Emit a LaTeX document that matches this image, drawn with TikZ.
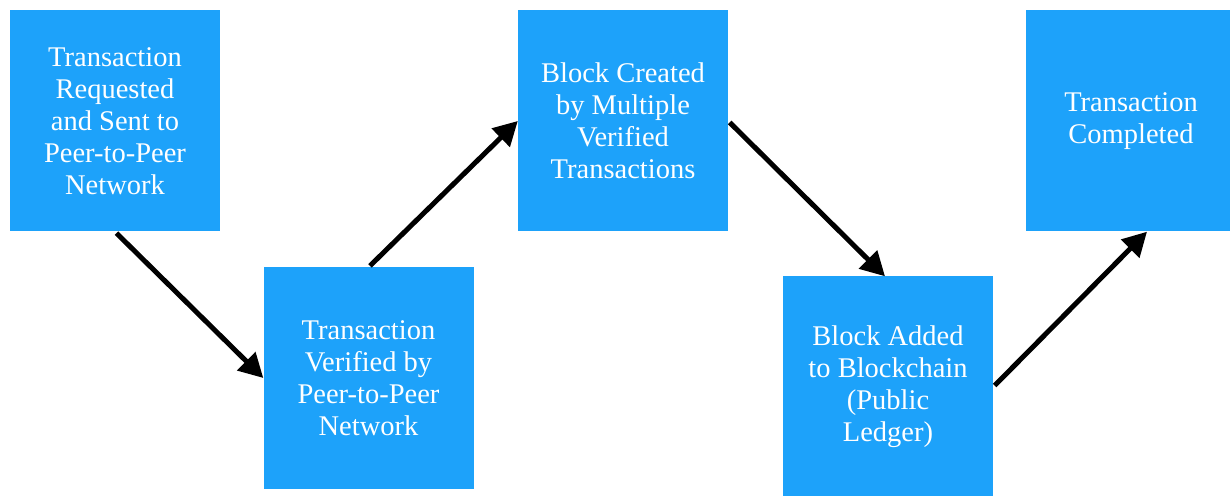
\documentclass[tikz,border=0pt]{standalone}
\usepackage{fontspec}
\setmainfont{Liberation Serif}
\usetikzlibrary{arrows.meta}
\definecolor{stepblue}{RGB}{29,162,250}
\tikzset{
    stage/.style={rectangle,fill=stepblue,text=white,align=center,inner sep=0pt,
        minimum width=210pt,minimum height=221pt,
        font=\fontsize{28.5}{32}\selectfont},
    flow/.style={line width=5pt,-{Triangle[length=24pt,width=25pt]},shorten <=2pt}
}
\begin{document}
\begin{tikzpicture}[x=1pt,y=1pt]
    \useasboundingbox (0,0) rectangle (1230,495);
    \node[stage] (requested) at (115,374) {Transaction\\Requested\\and Sent to\\Peer-to-Peer\\Network};
    \node[stage] (verified) at (368.5,117) {Transaction\\Verified by\\Peer-to-Peer\\Network};
    \node[stage] (created) at (623,374) {Block Created\\by Multiple\\Verified\\Transactions};
    \node[stage] (added) at (888,108) {Block Added\\to Blockchain\\(Public\\Ledger)};
    \node[stage] (completed) at (1131,374) {Transaction\\Completed};
    \draw[flow] (requested.south) -- (verified.west);
    \draw[flow] (verified.north) -- (created.west);
    \draw[flow] (created.east) -- ([xshift=-3pt]added.north);
    \draw[flow] (added.east) -- ([xshift=16pt]completed.south);
\end{tikzpicture}
\end{document}
